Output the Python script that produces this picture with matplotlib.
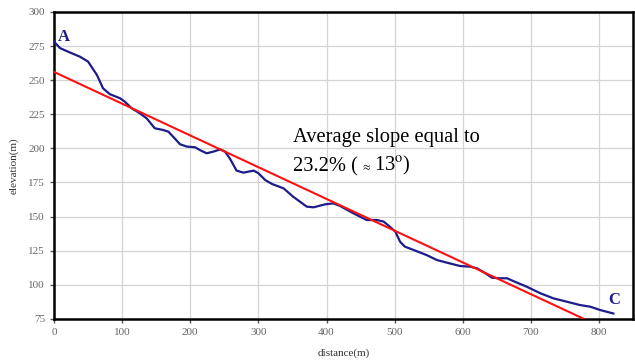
import matplotlib
matplotlib.use('Agg')
import matplotlib.pyplot as plt
import numpy as np

#%% Data
dist = [0, 9, 26, 38, 50, 63, 72, 82, 97, 104, 114, 126, 136, 148, 160, 168,
        177, 185, 195, 207, 214, 224, 234, 244, 251, 258, 268, 278, 293, 300,
        310, 320, 337, 351, 371, 381, 398, 410, 420, 435, 449, 459, 474, 484,
        493, 501, 508, 515, 528, 547, 562, 577, 596, 611, 621, 633, 643, 655,
        665, 674, 694, 714, 733, 753, 772, 787, 802, 821]
elev = [278.2, 273.4, 269.7, 267.2, 263.6, 253.8, 244.0, 239.7, 236.7, 234.2,
        229.4, 225.7, 222.0, 214.7, 213.5, 212.2, 207.4, 203.0, 201.3, 200.8,
        198.8, 196.4, 197.6, 199.3, 197.6, 192.7, 183.7, 182.2, 183.7, 181.8,
        176.8, 173.9, 170.7, 164.6, 157.3, 156.8, 159.0, 159.7, 157.8, 153.6,
        150.0, 147.5, 147.5, 146.3, 142.6, 139.0, 131.6, 128.0, 125.5, 121.8,
        118.2, 116.2, 113.8, 113.3, 112.1, 108.5, 105.2, 104.8, 104.8, 102.8,
        98.6, 93.8, 90.1, 87.6, 85.2, 84.0, 81.5, 79.0]

# Average slope line
fit_x = [0, 778]
fit_y = [256, 75]

x_ticks = [0, 100, 200, 300, 400, 500, 600, 700, 800]
y_ticks = [75, 100, 125, 150, 175, 200, 225, 250, 275, 300]

#%% Plot
plt.rcParams['font.family'] = ['Liberation Serif', 'DejaVu Serif']
plt.rcParams['mathtext.fontset'] = 'stix'

fig = plt.figure(figsize=(6.35, 3.6), dpi=100)
ax = fig.add_axes([0.085, 0.114, 0.912, 0.853])

ax.plot(dist, elev, color='#1c1c8a', linewidth=1.6, zorder=3,
        solid_joinstyle='round')
ax.plot(fit_x, fit_y, color='#ff1010', linewidth=1.5, zorder=4)

ax.set_xlim(0, 850)
ax.set_ylim(75, 300)
ax.set_xticks(x_ticks)
ax.set_yticks(y_ticks)
ax.grid(True, color='#d4d4d4', linewidth=0.9)
ax.set_axisbelow(True)

for side in ['left', 'bottom', 'top', 'right']:
    ax.spines[side].set_linewidth(1.8)
    ax.spines[side].set_color('black')

ax.tick_params(axis='both', labelsize=8, labelcolor='#666666',
               length=3, width=1, color='#555555')

ax.set_xlabel('distance(m)', fontsize=8, color='#333333', labelpad=8)
ax.set_ylabel('elevation(m)', fontsize=8, color='#333333', labelpad=7)

# Annotations
ax.text(351, 205, 'Average slope equal to', fontsize=14.8, color='black')
t1 = ax.text(351, 183, '23.2% (', fontsize=14.8, color='black')
t2 = ax.annotate(r'$\approx$', xy=(1, 0.22), xycoords=t1, fontsize=8,
                 xytext=(2.5, 0), textcoords='offset points',
                 va='bottom', ha='left', color='black')
t3 = ax.annotate(r'13$^{\mathrm{o}}$)', xy=(1, 0), xycoords=(t2, t1),
                 fontsize=14.8, xytext=(1.5, 0), textcoords='offset points',
                 va='bottom', ha='left', color='black')
ax.text(6, 279, 'A', fontsize=12, fontweight='bold', color='#1c1c8a')
ax.text(813, 86, 'C', fontsize=12, fontweight='bold', color='#1c1c8a')

fig.savefig('out.png', dpi=100)
